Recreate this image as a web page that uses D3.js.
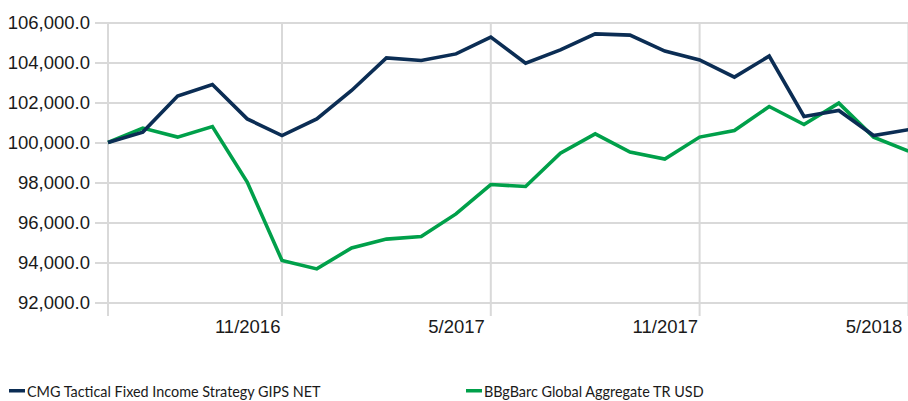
<!DOCTYPE html>
<html>
<head>
<meta charset="utf-8">
<script src="https://cdn.jsdelivr.net/npm/d3@7"></script>
<style>
  html, body { margin: 0; padding: 0; background: #fff; }
  svg { display: block; font-family: Lato, "Open Sans", sans-serif; }
</style>
</head>
<body>
<div id="chart"></div>
<script>
// monthly values, 7/2016 .. 6/2018
const months = [
    "7/2016", "8/2016", "9/2016", "10/2016", "11/2016", "12/2016",
    "1/2017", "2/2017", "3/2017", "4/2017", "5/2017", "6/2017",
    "7/2017", "8/2017", "9/2017", "10/2017", "11/2017", "12/2017",
    "1/2018", "2/2018", "3/2018", "4/2018", "5/2018", "6/2018"
];

const cmgValues = [
    100000, 100520, 102320, 102900, 101180, 100350,
    101180, 102600, 104230, 104100, 104430, 105270,
    103970, 104630, 105430, 105370, 104570, 104130,
    103270, 104320, 101300, 101600, 100350, 100640
];

const bbgValues = [
    100000, 100720, 100270, 100800, 98020, 94100,
    93680, 94730, 95170, 95300, 96430, 97900,
    97800, 99470, 100430, 99520, 99170, 100270,
    100600, 101800, 100900, 101970, 100270, 99570
];

const yTicks = [92000, 94000, 96000, 98000, 100000, 102000, 104000, 106000];
const xLabels = ["11/2016", "5/2017", "11/2017", "5/2018"];

const seriesNames = [
    "CMG Tactical Fixed Income Strategy GIPS NET",
    "BBgBarc Global Aggregate TR USD"
];
const seriesColors = ["#0b2d54", "#00a04a"];

const width = 908;
const height = 401;

const svg = d3.select("#chart")
    .append("svg")
    .attr("width", width)
    .attr("height", height);

// scales
const x = d3.scalePoint()
    .domain(months)
    .range([108, 108 + 34.8 * (months.length - 1)]);

const y = d3.scaleLinear()
    .domain([92000, 106000])
    .range([302.5, 22.5]);

const gridColor = "#d9d9d9";

// horizontal gridlines (axisLeft with full-width ticks)
const yAxis = svg.append("g")
    .attr("transform", "translate(108,0)")
    .call(d3.axisLeft(y)
        .tickValues(yTicks)
        .tickSize(-(width - 108))
        .tickSizeOuter(0)
        .tickFormat(d3.format(",.1f")));
yAxis.select(".domain").remove();
yAxis.selectAll(".tick line")
    .attr("x1", -13)
    .attr("stroke", gridColor)
    .attr("stroke-width", 2);
yAxis.selectAll(".tick text")
    .attr("font-size", 18.5)
    .attr("fill", "#1a1a1a")
    .attr("x", -18);

// vertical gridlines: at the left edge and one month after each labelled month
const gridMonths = [months[0]].concat(xLabels.map(m => months[months.indexOf(m) + 1]));
svg.append("g")
    .selectAll("line")
    .data(gridMonths)
    .join("line")
    .attr("x1", d => x(d))
    .attr("x2", d => x(d))
    .attr("y1", y(106000))
    .attr("y2", 316)
    .attr("stroke", gridColor)
    .attr("stroke-width", 2);

// x labels
const xAxis = svg.append("g")
    .attr("transform", "translate(0,316)")
    .call(d3.axisBottom(x).tickValues(xLabels).tickSize(0).tickPadding(4));
xAxis.select(".domain").remove();
xAxis.selectAll(".tick text")
    .attr("font-size", 18.5)
    .attr("fill", "#1a1a1a");

// lines
const line = d3.line()
    .x((d, i) => x(months[i]))
    .y(d => y(d));

svg.append("g")
    .selectAll("path")
    .data([bbgValues, cmgValues])
    .join("path")
    .attr("fill", "none")
    .attr("stroke", (d, i) => seriesColors[1 - i])
    .attr("stroke-width", 3.6)
    .attr("stroke-linejoin", "miter")
    .attr("d", d => line(d));

// legend
const legendX = [9, 466];
const legend = svg.append("g")
    .selectAll("g")
    .data(seriesNames)
    .join("g")
    .attr("transform", (d, i) => `translate(${legendX[i]},0)`);

legend.append("rect")
    .attr("x", 0)
    .attr("y", 389)
    .attr("width", 16)
    .attr("height", 3.5)
    .attr("fill", (d, i) => seriesColors[i]);

legend.append("text")
    .attr("x", 18)
    .attr("y", 397)
    .attr("font-size", 14.4)
    .attr("fill", "#1a1a1a")
    .text(d => d);
</script>
</body>
</html>
